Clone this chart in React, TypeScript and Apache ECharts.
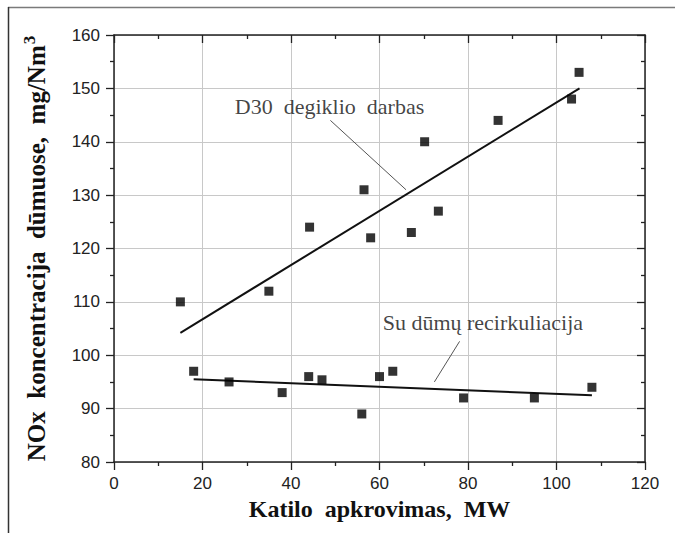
import React, { useEffect, useRef } from "react";
import * as echarts from "echarts";

const upperX = [15, 35, 44.2, 56.5, 58, 67.2, 70.2, 73.3, 86.8, 103.4, 105.1];
const upperY = [110, 112, 124, 131, 122, 123, 140, 127, 144, 148, 153];
const lowerX = [18, 26, 38, 44, 47, 56, 60, 63, 79, 95, 108];
const lowerY = [97, 95, 93, 96, 95.4, 89, 96, 97, 92, 92, 94];
const upperFitX = [15, 105.2];
const upperFitY = [104.2, 150];
const lowerFitX = [18, 108];
const lowerFitY = [95.5, 92.5];
const upperLeaderX = [48.9, 66.0];
const upperLeaderY = [144.0, 131.0];
const lowerLeaderX = [78.1, 72.4];
const lowerLeaderY = [102.6, 95.0];
const upperLabel = "D30  degiklio  darbas";
const upperLabelPos = [27.2, 146.6];
const lowerLabel = "Su dūmų recirkuliacija";
const lowerLabelPos = [60.6, 106.2];
const xTitle = "Katilo  apkrovimas,  MW";
const yTitle = "NOx  koncentracija  dūmuose,  mg/Nm";

const zip = (xs: number[], ys: number[]) => xs.map((x, i) => [x, ys[i]]);

const SERIF = "'Liberation Serif', 'Times New Roman', serif";
const SANS = "'Liberation Sans', Arial, sans-serif";
const AX = "#222";

export default function App() {
  const ref = useRef<HTMLDivElement>(null);
  useEffect(() => {
    if (!ref.current) return;
    const chart = echarts.init(ref.current, undefined, { renderer: "svg" });
    const baseX = {
      type: "value" as const,
      min: 0,
      max: 120,
      interval: 20,
      axisLine: { show: true, lineStyle: { color: AX, width: 1.5 } },
      minorTick: { show: true, splitNumber: 2, length: 4, lineStyle: { color: AX, width: 1.3 } },
    };
    const baseY = {
      type: "value" as const,
      min: 80,
      max: 160,
      interval: 10,
      axisLine: { show: true, onZero: false, lineStyle: { color: AX, width: 1.5 } },
      minorTick: { show: true, splitNumber: 2, length: 4, lineStyle: { color: AX, width: 1.3 } },
    };
    chart.setOption({
      animation: false,
      backgroundColor: "#fff",
      grid: { left: 114, top: 35, width: 531, height: 427, containLabel: false },
      xAxis: [
        {
          ...baseX,
          position: "bottom",
          axisLine: { ...baseX.axisLine, onZero: false },
          axisTick: { show: true, inside: false, length: 8, lineStyle: { color: AX, width: 1.3 } },
          axisLabel: { show: true, margin: 13, fontFamily: SANS, fontSize: 17, color: "#222" },
          splitLine: { show: true, lineStyle: { color: "#c8c8c8", width: 1 } },
          name: xTitle,
          nameLocation: "middle",
          nameGap: 32,
          nameTextStyle: { fontFamily: SERIF, fontWeight: "bold", fontSize: 24, color: "#111" },
        },
        {
          ...baseX,
          position: "top",
          axisLine: { ...baseX.axisLine, onZero: false },
          axisTick: { show: true, inside: true, length: 8, lineStyle: { color: AX, width: 1.3 } },
          axisLabel: { show: false },
          splitLine: { show: false },
        },
      ],
      yAxis: [
        {
          ...baseY,
          position: "left",
          axisTick: { show: true, inside: false, length: 8, lineStyle: { color: AX, width: 1.3 } },
          axisLabel: { show: true, margin: 14, fontFamily: SANS, fontSize: 17, color: "#222" },
          splitLine: { show: true, lineStyle: { color: "#c8c8c8", width: 1 } },
          name: "{a|" + yTitle + "}{s|3}",
          nameLocation: "middle",
          nameGap: 62,
          nameRotate: 90,
          nameTextStyle: {
            rich: {
              a: { fontFamily: SERIF, fontWeight: "bold", fontSize: 25, color: "#111" },
              s: { fontFamily: SERIF, fontWeight: "bold", fontSize: 17, color: "#111", verticalAlign: "top", padding: [0, 0, 14, 1] },
            },
          },
        },
        {
          ...baseY,
          position: "right",
          axisTick: { show: true, inside: true, length: 8, lineStyle: { color: AX, width: 1.3 } },
          axisLabel: { show: false },
          splitLine: { show: false },
        },
      ],
      graphic: [
        { type: "line", shape: { x1: 8, y1: 7.5, x2: 675, y2: 7.5 }, style: { stroke: "#7a7a7a", lineWidth: 1.5 } },
        { type: "line", shape: { x1: 8.5, y1: 7, x2: 8.5, y2: 533 }, style: { stroke: "#333", lineWidth: 1.5 } },
      ],
      series: [
        {
          type: "line",
          data: zip(upperFitX, upperFitY),
          showSymbol: false,
          symbol: "none",
          lineStyle: { color: "#111", width: 2 },
          z: 3,
        },
        {
          type: "line",
          data: zip(lowerFitX, lowerFitY),
          showSymbol: false,
          symbol: "none",
          lineStyle: { color: "#111", width: 2 },
          z: 3,
        },
        {
          type: "line",
          data: zip(upperLeaderX, upperLeaderY),
          showSymbol: false,
          symbol: "none",
          lineStyle: { color: "#555", width: 1 },
          z: 3,
        },
        {
          type: "line",
          data: zip(lowerLeaderX, lowerLeaderY),
          showSymbol: false,
          symbol: "none",
          lineStyle: { color: "#555", width: 1 },
          z: 3,
        },
        {
          type: "scatter",
          data: zip(upperX, upperY),
          symbol: "rect",
          symbolSize: 9,
          itemStyle: { color: "#000" },
          z: 5,
        },
        {
          type: "scatter",
          data: zip(lowerX, lowerY),
          symbol: "rect",
          symbolSize: 9,
          itemStyle: { color: "#000" },
          z: 5,
        },
        {
          type: "scatter",
          data: [upperLabelPos, lowerLabelPos],
          symbolSize: 1,
          itemStyle: { color: "transparent" },
          silent: true,
          label: {
            show: true,
            position: "right",
            distance: 0,
            formatter: (p: any) => (p.dataIndex === 0 ? upperLabel : lowerLabel),
            fontFamily: SERIF,
            fontSize: 22,
            color: "#111",
          },
          z: 6,
        },
      ],
    });
    return () => chart.dispose();
  }, []);
  return (
    <div
      ref={ref}
      style={{ position: "fixed", left: 0, top: 0, width: 675, height: 533, background: "#fff" }}
    />
  );
}
